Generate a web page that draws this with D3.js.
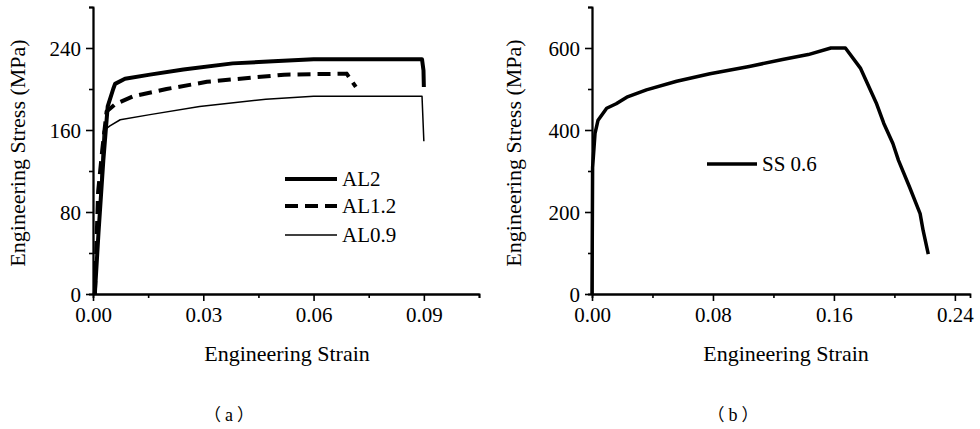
<!DOCTYPE html>
<html>
<head>
<meta charset="utf-8">
<script src="https://cdn.jsdelivr.net/npm/d3@7"></script>
</head>
<body style="margin:0">
<svg id="chart" width="980" height="429" font-family="Liberation Serif"></svg>
<script>
// panel (a) series: [strain, stress MPa]
const al2 = [[0.0005, 0], [0.0015, 60], [0.0028, 130], [0.004, 183], [0.0055, 200], [0.006, 205],
  [0.0087, 210], [0.0155, 214], [0.0246, 219], [0.038, 225], [0.049, 227], [0.060, 229],
  [0.0895, 229], [0.0899, 218], [0.090, 202]];
const al12 = [[0.0005, 0], [0.0014, 100], [0.0025, 140], [0.0037, 178], [0.006, 185], [0.011, 193],
  [0.020, 200], [0.031, 207], [0.043, 211], [0.052, 214], [0.069, 215], [0.0715, 202]];
const al09 = [[0.0005, 0], [0.0015, 60], [0.0028, 159], [0.0046, 164], [0.0074, 170], [0.0155, 175],
  [0.029, 183], [0.047, 190], [0.060, 193], [0.0895, 193], [0.090, 149]];

// panel (b) series
const ss06 = [[0, 0], [0.0004, 309], [0.002, 392], [0.004, 424], [0.0097, 453], [0.016, 464],
  [0.023, 480], [0.036, 498], [0.056, 519], [0.078, 537], [0.104, 555], [0.126, 572],
  [0.143, 584], [0.158, 600], [0.1676, 600], [0.1775, 551], [0.188, 466], [0.193, 416],
  [0.199, 367], [0.2027, 326], [0.210, 261], [0.217, 196], [0.219, 155], [0.2224, 97]];

const xTicksA = [0, 0.03, 0.06, 0.09];
const xMinorA = [0.015, 0.045, 0.075, 0.105];
const yTicksA = [0, 80, 160, 240];
const yMinorA = [40, 120, 200, 280];

const xTicksB = [0, 0.08, 0.16, 0.24];
const xMinorB = [0.04, 0.12, 0.20];
const yTicksB = [0, 200, 400, 600];
const yMinorB = [100, 300, 500, 700];

const svg = d3.select("#chart");

svg.append("rect").attr("width", 980).attr("height", 429).attr("fill", "#fff");

function drawPanel(p) {
  const x = d3.scaleLinear().domain(p.xDomain).range([p.left, p.right]);
  const y = d3.scaleLinear().domain(p.yDomain).range([p.bottom, p.top]);
  const g = svg.append("g");

  // minor ticks first, then axes with major ticks
  const xMinor = g.append("g")
    .attr("transform", "translate(0," + p.bottom + ")")
    .call(d3.axisBottom(x).tickValues(p.xMinor).tickSize(4).tickFormat(""));
  const yMinor = g.append("g")
    .attr("transform", "translate(" + p.left + ",0)")
    .call(d3.axisLeft(y).tickValues(p.yMinor).tickSize(4).tickFormat(""));

  const xAxis = g.append("g")
    .attr("transform", "translate(0," + p.bottom + ")")
    .call(d3.axisBottom(x).tickValues(p.xTicks).tickSize(7).tickPadding(6).tickSizeOuter(0)
      .tickFormat(d3.format(".2f")));
  const yAxis = g.append("g")
    .attr("transform", "translate(" + p.left + ",0)")
    .call(d3.axisLeft(y).tickValues(p.yTicks).tickSize(7).tickPadding(5).tickSizeOuter(0));

  [xMinor, yMinor, xAxis, yAxis].forEach(a => {
    a.attr("font-family", null).attr("font-size", null);
    a.select(".domain").attr("stroke", "#000").attr("stroke-width", 1.8);
    a.selectAll(".tick line").attr("stroke", "#000").attr("stroke-width", 1.6);
  });
  [xAxis, yAxis].forEach(a => a.selectAll(".tick text")
    .attr("font-family", "Liberation Serif").attr("font-size", 21).attr("fill", "#000"));
  yAxis.selectAll(".tick text").attr("dy", "0.34em");

  g.append("text")
    .attr("x", p.xLabelX)
    .attr("y", 361)
    .attr("text-anchor", "middle")
    .attr("font-family", "Liberation Serif")
    .attr("font-size", 22)
    .text("Engineering Strain");

  g.append("text")
    .attr("transform", "translate(" + p.yLabelX + ",153) rotate(-90)")
    .attr("text-anchor", "middle")
    .attr("dy", "0.35em")
    .attr("font-family", "Liberation Serif")
    .attr("font-size", 22)
    .text("Engineering Stress (MPa)");

  // caption with full-width brackets
  const cap = g.append("text")
    .attr("x", p.captionX)
    .attr("y", 421)
    .attr("text-anchor", "middle")
    .attr("font-family", "Noto Sans CJK SC")
    .attr("font-size", 17);
  cap.append("tspan").text("（");
  cap.append("tspan").attr("dx", 4).attr("font-family", "Liberation Serif").attr("font-size", 18).text(p.caption);
  cap.append("tspan").attr("dx", 4).text("）");

  const line = d3.line().x(d => x(d[0])).y(d => y(d[1]));

  p.series.forEach(s => {
    g.append("path")
      .datum(s.data)
      .attr("fill", "none")
      .attr("stroke", "#000")
      .attr("stroke-width", s.width)
      .attr("stroke-dasharray", s.dash || null)
      .attr("stroke-linejoin", "round")
      .attr("d", line);

    // legend entry
    g.append("line")
      .attr("x1", s.lx)
      .attr("x2", s.lx + s.llen)
      .attr("y1", s.ly)
      .attr("y2", s.ly)
      .attr("stroke", "#000")
      .attr("stroke-width", s.width)
      .attr("stroke-dasharray", s.dash || null);
    g.append("text")
      .attr("x", s.lx + s.llen + 5)
      .attr("y", s.ly)
      .attr("dy", "0.35em")
      .attr("font-family", "Liberation Serif")
      .attr("font-size", 21)
      .text(s.name);
  });
}

drawPanel({
  xDomain: [0, 0.105], yDomain: [0, 280],
  left: 93, right: 479, top: 7, bottom: 294,
  xTicks: xTicksA, xMinor: xMinorA, yTicks: yTicksA, yMinor: yMinorA,
  xLabelX: 287, yLabelX: 17, captionX: 229, caption: "a",
  series: [
    {name: "AL2", data: al2, width: 4, lx: 285, ly: 179, llen: 52},
    {name: "AL1.2", data: al12, width: 4, dash: "13,7", lx: 285, ly: 206, llen: 52},
    {name: "AL0.9", data: al09, width: 1.5, lx: 285, ly: 235, llen: 52}
  ]
});

drawPanel({
  xDomain: [0, 0.25], yDomain: [0, 700],
  left: 592, right: 970, top: 7, bottom: 294,
  xTicks: xTicksB, xMinor: xMinorB, yTicks: yTicksB, yMinor: yMinorB,
  xLabelX: 786, yLabelX: 513, captionX: 733, caption: "b",
  series: [
    {name: "SS 0.6", data: ss06, width: 3.5, lx: 707, ly: 164, llen: 50}
  ]
});
</script>
</body>
</html>
